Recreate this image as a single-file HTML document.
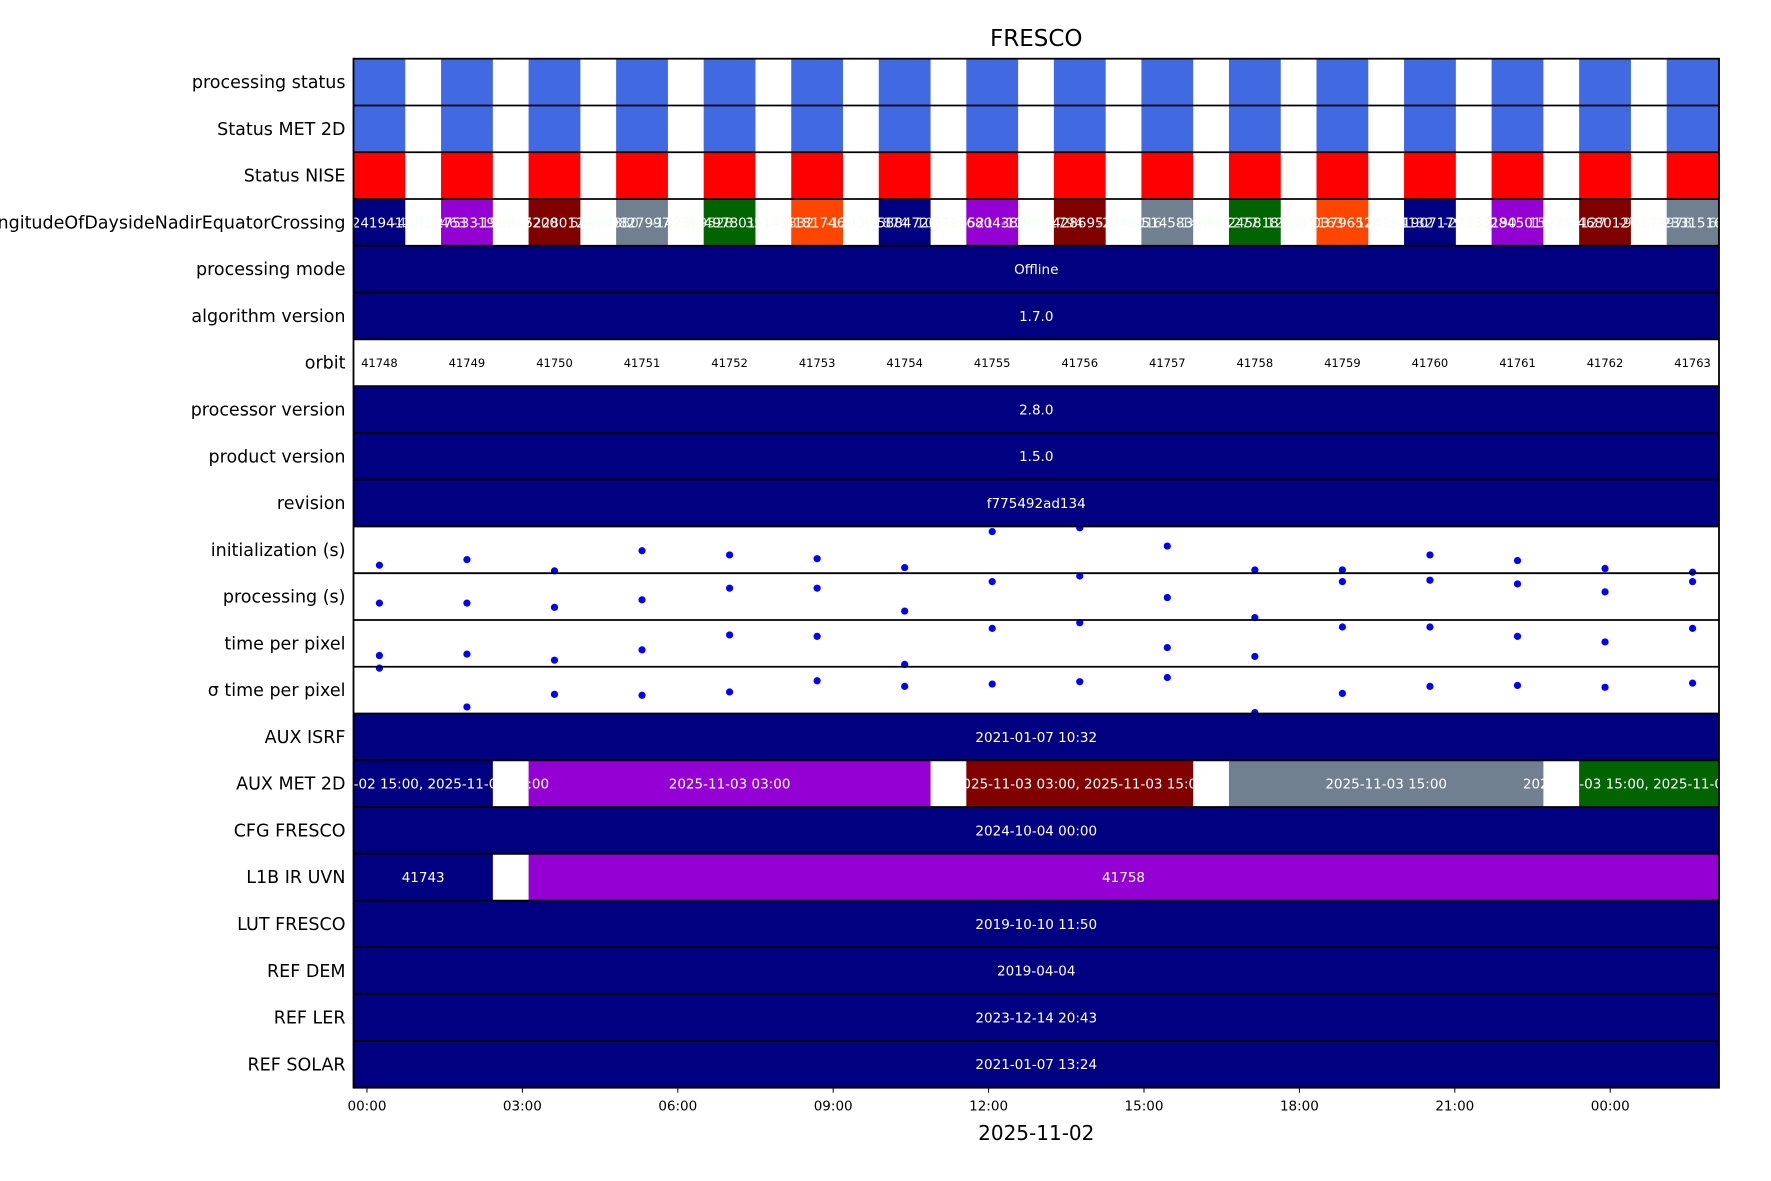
<!DOCTYPE html>
<html><head><meta charset="utf-8"><style>
html,body{margin:0;padding:0;background:#fff;}
svg{display:block;font-family:"DejaVu Sans","Liberation Sans",sans-serif;}
</style></head><body>
<svg id="chart" width="1771" height="1181" viewBox="0 0 1771 1181"></svg>
<script>
const rowNames=["processing status","Status MET 2D","Status NISE","longitudeOfDaysideNadirEquatorCrossing","processing mode","algorithm version","orbit","processor version","product version","revision","initialization (s)","processing (s)","time per pixel","σ time per pixel","AUX ISRF","AUX MET 2D","CFG FRESCO","L1B IR UVN","LUT FRESCO","REF DEM","REF LER","REF SOLAR"];
const orbits=[41748,41749,41750,41751,41752,41753,41754,41755,41756,41757,41758,41759,41760,41761,41762,41763];
const orbitStartHour=-0.26, orbitPeriodHours=1.69, orbitDurationHours=1.0;
const lonColors=["#000080","#9400d3","#800000","#708090","#006400","#ff4500","#000080","#9400d3","#800000","#708090","#006400","#ff4500","#000080","#9400d3","#800000","#708090"];
const lonLabels=["-124194132","-27533190","152280127","-98279978","64978017","-41817463","-158847200","56804380","-142869528","35145832","-124581874","103796521","-119071794","-2845016","-146801277","123315163"];
const initVals=[17,29,5,48,39,31,12,89,97,58,7,7,39,27,10,2];
const procVals=[36,36,27,43,68,68,19,82,94,48,5,82,85,77,60,82];
const tppVals=[24,27,14,36,68,65,5,82,94,41,22,85,85,65,53,82];
const sigmaVals=[97,14,41,39,46,70,58,63,68,77,2,43,58,60,56,65];
const metSegStart=[0,2,7,10,14], metSegEnd=[1,6,9,13,15];
const metSegColors=["#000080","#9400d3","#800000","#708090","#006400"];
const metSegLabels=["2025-11-02 15:00, 2025-11-03 03:00","2025-11-03 03:00","2025-11-03 03:00, 2025-11-03 15:00","2025-11-03 15:00","2025-11-03 15:00, 2025-11-04 03:00"];
const l1bSegStart=[0,2], l1bSegEnd=[1,15], l1bColors=["#000080","#9400d3"], l1bLabels=["41743","41758"];
const constRows={"processing mode":"Offline","algorithm version":"1.7.0","processor version":"2.8.0","product version":"1.5.0","revision":"f775492ad134","AUX ISRF":"2021-01-07 10:32","CFG FRESCO":"2024-10-04 00:00","LUT FRESCO":"2019-10-10 11:50","REF DEM":"2019-04-04","REF LER":"2023-12-14 20:43","REF SOLAR":"2021-01-07 13:24"};
const tickHours=[0,3,6,9,12,15,18,21,24];
const tickLabels=["00:00","03:00","06:00","09:00","12:00","15:00","18:00","21:00","00:00"];

const L=353.5,R=1719,T=58.7,B=1087.7;
const xMin=-0.26,xMax=26.1;
const x=h=>L+(h-xMin)/(xMax-xMin)*(R-L);
const rh=(B-T)/rowNames.length;
const rowY=i=>T+i*rh;
const svg=document.getElementById('chart');
const NS="http://www.w3.org/2000/svg";
function mk(tag,attrs,parent){const e=document.createElementNS(NS,tag);for(const k in attrs)e.setAttribute(k,attrs[k]);(parent||svg).appendChild(e);return e;}
const clip=mk('clipPath',{id:'pc'});mk('rect',{x:L,y:T,width:R-L,height:B-T},clip);
const plot=mk('g',{'clip-path':'url(#pc)'});
const labelsG=mk('g',{});
const oStart=i=>orbitStartHour+i*orbitPeriodHours;
const oEnd=i=>oStart(i)+orbitDurationHours;
function cellText(txt,cx,cy,size,color){const t=mk('text',{x:cx,y:cy+size*0.36,'text-anchor':'middle','font-size':size,fill:color},labelsG);t.textContent=txt;return t;}
function rect(x0,y0,w,h,fill){return mk('rect',{x:x0,y:y0,width:w,height:h,fill:fill},plot);}

rowNames.forEach((name,r)=>{
  const y0=rowY(r), cy=y0+rh/2;
  const lab=mk('text',{x:L-8,y:cy+6,'text-anchor':'end','font-size':17.5,fill:'#000'});
  lab.textContent=name;
  
  
  if(r<3){
    const col=r===2?"#ff0000":"#4169e1";
    orbits.forEach((o,i)=>{const e=rect(x(oStart(i)),y0,x(oEnd(i))-x(oStart(i)),rh,col);
      
      });
  } else if(r===3){
    orbits.forEach((o,i)=>{const e=rect(x(oStart(i)),y0,x(oEnd(i))-x(oStart(i)),rh,lonColors[i]);
      
      
      const c=(x(oStart(i))+x(oEnd(i)))/2;
      const t=cellText(lonLabels[i],c,cy,13.5,'#fff');t.setAttribute('clip-path','url(#pc)');
      const t2=cellText(lonLabels[(i+5)%16],c+50,cy,13.5,'#f0fff0');t2.setAttribute('opacity','0.85');t2.setAttribute('clip-path','url(#pc)');});
  } else if(r===6){
    orbits.forEach((o,i)=>{const t=cellText(String(o),(x(oStart(i))+x(oEnd(i)))/2,cy,11.5,'#000');
      
      });
  } else if(constRows[name]!==undefined){
    const e=rect(L,y0,R-L,rh,"#000080");
    
    
    cellText(constRows[name],(L+R)/2,cy,13.5,'#fff');
  } else if(r>=10&&r<=13){
    const vals=[initVals,procVals,tppVals,sigmaVals][r-10];
    vals.forEach((v,i)=>{const c=mk('circle',{cx:(x(oStart(i))+x(oEnd(i)))/2,cy:y0+rh-(v/100)*rh,r:3.6,fill:'#0000ff'},plot);
      
      });
  } else if(r===15||r===17){
    const S=r===15?metSegStart:l1bSegStart,E=r===15?metSegEnd:l1bSegEnd,C=r===15?metSegColors:l1bColors,Lb=r===15?metSegLabels:l1bLabels;
    S.forEach((s,k)=>{const x0=x(oStart(s)),x1=x(oEnd(E[k]));
      const e=rect(x0,y0,x1-x0,rh,C[k]);
      
      
      cellText(Lb[k],(x0+x1)/2,cy,13.5,'#fff');});
  }
});
for(let r=1;r<rowNames.length;r++){mk('line',{x1:L,x2:R,y1:rowY(r),y2:rowY(r),stroke:'#000','stroke-width':1.8});}
mk('rect',{x:L,y:T,width:R-L,height:B-T,fill:'none',stroke:'#000','stroke-width':1.8});
tickHours.forEach((h,i)=>{mk('line',{x1:x(h),x2:x(h),y1:B,y2:B+5,stroke:'#000','stroke-width':1});
  const t=mk('text',{x:x(h),y:B+23,'text-anchor':'middle','font-size':13.5,fill:'#000'});t.textContent=tickLabels[i];
  
  });
const xl=mk('text',{x:(L+R)/2,y:1140,'text-anchor':'middle','font-size':20,fill:'#000'});xl.textContent="2025-11-02";


const ti=mk('text',{x:(L+R)/2,y:46,'text-anchor':'middle','font-size':23,fill:'#000'});ti.textContent="FRESCO";


</script>
</body></html>
